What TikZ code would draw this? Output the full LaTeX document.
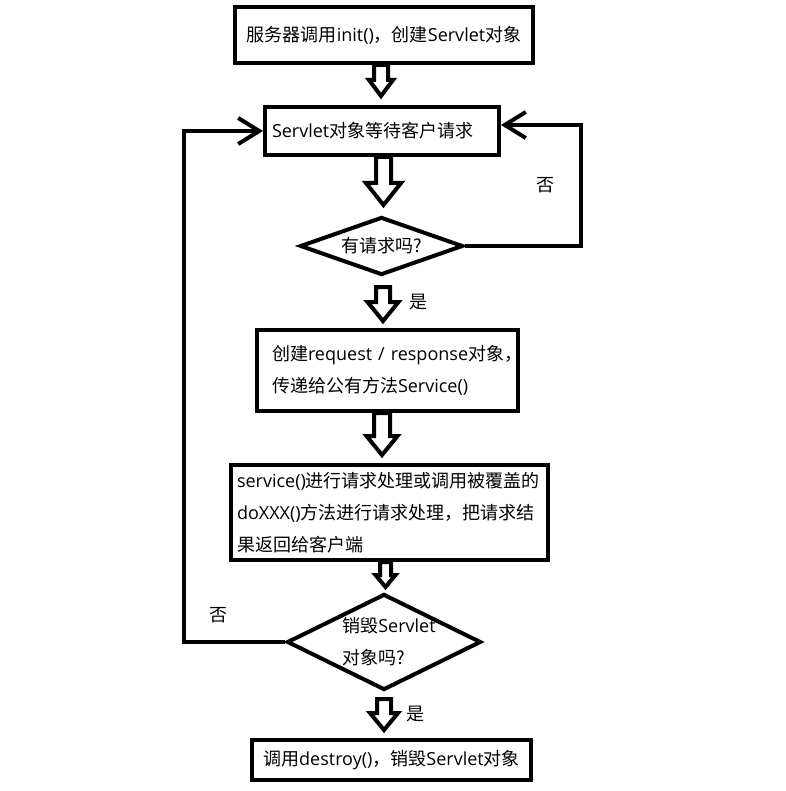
\documentclass[tikz,border=0pt]{standalone}
\usepackage{fontspec}
\setmainfont{Open Sans}
\newfontfamily\cjk{Noto Sans CJK SC}
\usetikzlibrary{shapes.geometric,arrows.meta,calc}
\newcommand\zh[1]{{\cjk #1}}
\tikzset{
  txt/.style={font=\fontsize{18pt}{32pt}\selectfont},
  box/.style={draw, line width=4pt, rectangle, inner sep=0pt, txt},
  dia/.style={draw, line width=4pt, diamond, inner sep=0pt, txt},
  flow/.style={line width=4pt, line join=miter, -{Straight Barb[length=21pt,width=26pt]}},
  hollow/.style={draw, line width=4pt, line join=miter},
  lbl/.style={inner sep=0pt, font=\fontsize{18pt}{20pt}\selectfont\cjk}
}
% #1 from, #2 to, #3 xshift, #4 shaft half width, #5 head half width, #6 head length
\newcommand\harrow[6]{%
  \draw[hollow] let \p1=#1, \p2=#2 in
    (\x1+#3pt-#4pt,\y1) -- (\x1+#3pt+#4pt,\y1) -- (\x1+#3pt+#4pt,\y2+#6pt)
    -- (\x1+#3pt+#5pt,\y2+#6pt) -- (\x1+#3pt,\y2) -- (\x1+#3pt-#5pt,\y2+#6pt)
    -- (\x1+#3pt-#4pt,\y2+#6pt) -- cycle;}
\begin{document}
\begin{tikzpicture}[x=1pt,y=-1pt]
\useasboundingbox (0,0) rectangle (785,791);

\node[box, minimum width=298pt, minimum height=56pt] (b1) at (384,35)
  {\zh{服务器调用}init()\zh{，创建}Servlet\zh{对象}};
\node[box, minimum height=48pt, inner xsep=7pt, text width=220pt, align=left] (b2) at (382,131)
  {Servlet\zh{对象等待客户请求}};
\node[dia, aspect=2.8, minimum width=163pt, minimum height=58pt] (d1) at (381.5,246)
  {\zh{有请求吗?}};
\node[box, minimum height=81pt, inner xsep=15pt, text width=231pt, align=left] (b3) at (387.5,370.5)
  {\mbox{\zh{创建}request / response\zh{对象，}}\\\mbox{\zh{传递给公有方法}Service()}};
\node[box, minimum height=95pt, inner xsep=6pt, text width=305pt, align=left] (b4) at (389.5,512.5)
  {\mbox{service()\zh{进行请求处理或调用被覆盖的}}\\\mbox{doXXX()\zh{方法进行请求处理，把请求结}}\\\mbox{\zh{果返回给客户端}}};
\node[dia, aspect=2.02, minimum width=194pt, minimum height=96pt] (d2) at (384,642)
  {\hspace*{10pt}\raisebox{-9pt}{\smash{\begin{tabular}{@{}l@{}}\zh{销毁}Servlet\\\zh{对象吗?}\end{tabular}}}};
\node[box, minimum width=279pt, minimum height=40pt] (b5) at (391.5,760)
  {\zh{调用}destroy()\zh{，销毁}Servlet\zh{对象}};

\harrow{(b1.south)}{([yshift=9pt]b2.north)}{-3}{7}{12}{16}
\harrow{(b2.south)}{([yshift=10pt]d1.north)}{1.5}{7.5}{17.5}{22}
\harrow{([yshift=-10pt]d1.south)}{([yshift=7pt]b3.north)}{1.5}{7}{15.5}{19}
\harrow{(b3.south)}{([yshift=8pt]b4.north)}{-5.5}{8}{15.5}{19}
\harrow{(b4.south)}{([yshift=5pt]d2.north)}{-4}{5.5}{10}{12}
\harrow{([yshift=-7pt]d2.south)}{([yshift=8pt]b5.north)}{0}{7}{14}{17}

\coordinate (rc) at (580.5,125);
\coordinate (lc) at (184,131);
\draw[flow] (d1.east) -| (rc) -- (rc -| b2.east);
\draw[flow] (d2.west) -| (lc) -- (lc -| b2.west);

\node[lbl] (no1) at (545,185) {否};
\node[lbl] (no2) at (218,615) {否};
\node[lbl] (yes1) at (418,302) {是};
\node[lbl] (yes2) at (415,714) {是};
\end{tikzpicture}
\end{document}
